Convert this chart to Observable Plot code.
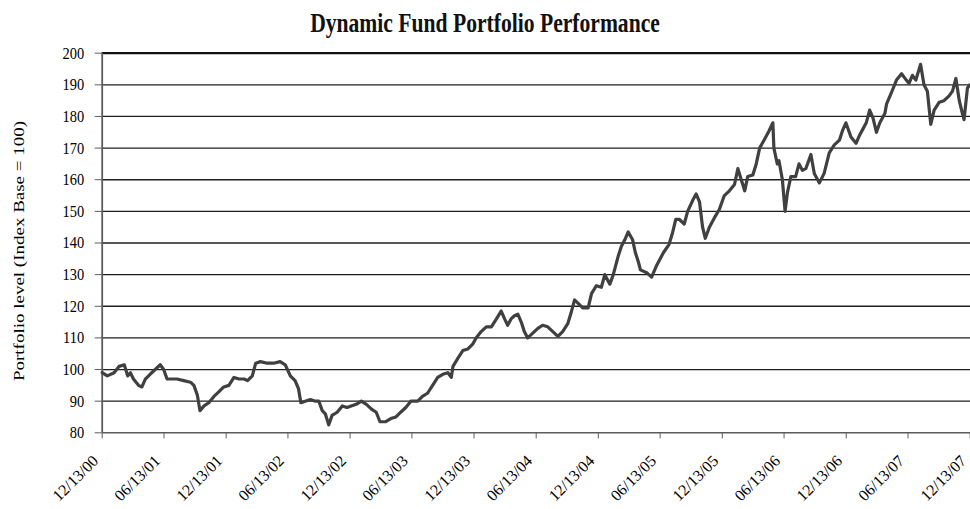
<!DOCTYPE html>
<html>
<head>
<meta charset="utf-8">
<script src="https://cdn.jsdelivr.net/npm/d3@7"></script>
<script src="https://cdn.jsdelivr.net/npm/@observablehq/plot@0.6"></script>
<style>
  html, body { margin: 0; padding: 0; background: #fff; width: 970px; height: 509px; overflow: hidden; }
  #wrap { position: relative; width: 970px; height: 509px; }
  #title { position: absolute; left: 0; top: 3px; width: 970px; height: 40px; line-height: 40px; text-align: center;
           font-family: "Liberation Serif", "Times New Roman", serif; font-weight: bold; font-size: 27px; color: #111;
           transform: scaleX(0.8); transform-origin: 485px 0; white-space: nowrap; }
  #chart { position: absolute; left: 0; top: 40px; }
</style>
</head>
<body>
<div id="wrap">
  <div id="title"></div>
  <div id="chart"></div>
</div>
<script>
const titleText = "Dynamic Fund Portfolio Performance";
const yAxisLabel = "Portfolio level (Index Base = 100)";

const dates = [
  "2000-12-13","2000-12-28","2001-01-17","2001-02-01","2001-02-16","2001-02-26","2001-03-06","2001-03-15","2001-03-30","2001-04-09",
  "2001-04-19","2001-05-03","2001-05-18","2001-06-02","2001-06-12","2001-06-22","2001-07-06","2001-07-21","2001-08-10","2001-08-30",
  "2001-09-09","2001-09-19","2001-09-27","2001-10-09","2001-10-23","2001-11-07","2001-11-22","2001-12-06","2001-12-21","2002-01-05",
  "2002-01-20","2002-02-04","2002-02-14","2002-02-28","2002-03-10","2002-03-24","2002-04-13","2002-05-02","2002-05-21","2002-06-05",
  "2002-06-20","2002-07-04","2002-07-14","2002-07-21","2002-08-03","2002-08-18","2002-09-02","2002-09-12","2002-09-22","2002-10-01",
  "2002-10-11","2002-10-21","2002-11-05","2002-11-20","2002-12-04","2002-12-16","2002-12-31","2003-01-15","2003-01-30","2003-02-14",
  "2003-02-28","2003-03-11","2003-03-28","2003-04-12","2003-04-27","2003-05-11","2003-05-26","2003-06-10","2003-06-30","2003-07-14",
  "2003-07-29","2003-08-13","2003-08-28","2003-09-12","2003-09-27","2003-10-07","2003-10-12","2003-10-26","2003-11-10","2003-11-25",
  "2003-12-09","2003-12-19","2004-01-03","2004-01-18","2004-02-02","2004-02-17","2004-03-02","2004-03-12","2004-03-21","2004-03-31",
  "2004-04-10","2004-04-20","2004-04-30","2004-05-09","2004-05-19","2004-06-03","2004-06-18","2004-07-02","2004-07-17","2004-08-01",
  "2004-08-16","2004-08-30","2004-09-14","2004-09-24","2004-10-04","2004-10-14","2004-10-28","2004-11-13","2004-11-23","2004-12-07",
  "2004-12-22","2005-01-01","2005-01-16","2005-01-26","2005-02-10","2005-02-19","2005-03-01","2005-03-11","2005-03-24","2005-04-01",
  "2005-04-10","2005-04-16","2005-05-06","2005-05-19","2005-06-03","2005-06-23","2005-07-09","2005-07-19","2005-07-29","2005-08-08",
  "2005-08-23","2005-09-02","2005-09-17","2005-09-27","2005-10-07","2005-10-16","2005-10-24","2005-11-05","2005-11-20","2005-12-04",
  "2005-12-19","2006-01-03","2006-01-18","2006-01-28","2006-02-07","2006-02-17","2006-02-26","2006-03-13","2006-03-23","2006-04-02",
  "2006-04-15","2006-04-30","2006-05-11","2006-05-14","2006-05-24","2006-05-29","2006-06-08","2006-06-16","2006-06-23","2006-07-03",
  "2006-07-17","2006-07-27","2006-08-06","2006-08-16","2006-08-31","2006-09-10","2006-09-25","2006-10-09","2006-10-24","2006-11-08",
  "2006-11-23","2006-12-02","2006-12-12","2006-12-27","2007-01-11","2007-01-21","2007-01-31","2007-02-10","2007-02-20","2007-03-02",
  "2007-03-12","2007-03-22","2007-04-06","2007-04-11","2007-04-25","2007-05-10","2007-05-25","2007-06-08","2007-06-16","2007-06-26",
  "2007-07-06","2007-07-20","2007-07-30","2007-08-09","2007-08-19","2007-08-29","2007-09-13","2007-09-27","2007-10-12","2007-10-22",
  "2007-11-01","2007-11-11","2007-11-20","2007-11-25","2007-12-05","2007-12-12"
];
const levels = [
  99, 98, 99, 101, 101.5, 98, 99, 97, 95, 94.5,
  97, 98.5, 100, 101.5, 100, 97, 97, 97, 96.5, 96,
  95, 92, 87, 88.5, 89.5, 91.5, 93, 94.5, 95, 97.5,
  97, 97, 96.5, 98, 102, 102.5, 102, 102, 102.5, 101.5,
  98, 96.5, 94, 89.5, 90, 90.5, 90, 90, 87, 86,
  82.5, 85.5, 86.5, 88.5, 88, 88.5, 89, 90, 89, 87.5,
  86.5, 83.5, 83.5, 84.5, 85, 86.5, 88, 90, 90, 91.5,
  92.5, 95, 97.5, 98.5, 99, 97.5, 101, 103.5, 106, 106.5,
  108, 110, 112, 113.5, 113.5, 116, 118.5, 116, 114, 116,
  117, 117.5, 115, 112, 110, 111.5, 113, 114, 113.5, 112,
  110.5, 112, 114.5, 118, 122, 121, 119.5, 119.5, 124, 126.5,
  126, 130, 127, 130, 136, 139, 141, 143.5, 141, 137,
  134, 131.5, 130.5, 129.2, 133, 137, 139.5, 143, 147.5, 147.5,
  146, 150, 153.5, 155.5, 153, 145, 141.5, 145, 148, 150.5,
  155, 156.5, 158.5, 163.5, 160, 156.5, 161, 161.5, 165, 170,
  172.5, 175.5, 178, 170, 165, 166, 160, 150, 156, 161,
  161, 165, 163, 163.5, 168, 162, 159, 162, 168.5, 171,
  172.5, 175.5, 178, 173.5, 171.5, 174, 176, 178, 182, 179.5,
  175, 178, 181, 184, 187.5, 191.5, 193.5, 191.5, 190.5, 193,
  191.5, 196.5, 190, 188, 177.5, 182, 184.5, 185, 186.5, 188,
  192, 185, 181, 179, 189, 190
];

const xTickDates = ["2000-12-13","2001-06-13","2001-12-13","2002-06-13","2002-12-13","2003-06-13","2003-12-13","2004-06-13",
                    "2004-12-13","2005-06-13","2005-12-13","2006-06-13","2006-12-13","2007-06-13","2007-12-13"];
const xTickLabels = ["12/13/00","06/13/01","12/13/01","06/13/02","12/13/02","06/13/03","12/13/03","06/13/04",
                     "12/13/04","06/13/05","12/13/05","06/13/06","12/13/06","06/13/07","12/13/07"];
const yTicks = [80, 90, 100, 110, 120, 130, 140, 150, 160, 170, 180, 190, 200];

const parse = d3.utcParse("%Y-%m-%d");
const data = dates.map((d, i) => ({date: parse(d), level: levels[i]}));
const xTicks = xTickDates.map((d, i) => ({date: parse(d), label: xTickLabels[i]}));
const xStart = parse("2000-12-13");
const xEnd = parse("2007-12-14");

document.getElementById("title").textContent = titleText;

const chart = Plot.plot({
  width: 970,
  height: 469,
  marginTop: 12.7,
  marginBottom: 76.7,
  marginLeft: 101.7,
  marginRight: 0,
  style: {fontFamily: "Liberation Serif, 'Times New Roman', serif", background: "white", color: "black", overflow: "visible"},
  x: {type: "utc", domain: [xStart, xEnd]},
  y: {domain: [80, 200]},
  marks: [
    Plot.ruleY(yTicks.filter(v => v > 80 && v < 200), {stroke: "#1e1e1e", strokeWidth: 1.3}),
    Plot.ruleY([200], {stroke: "#111", strokeWidth: 2.3}),
    Plot.ruleY([80], {stroke: "#5c5c5c", strokeWidth: 1.6}),
    Plot.ruleX([xStart], {stroke: "#5c5c5c", strokeWidth: 1.8}),
    Plot.axisY({ticks: yTicks, tickSize: 7, tickPadding: 11, fontSize: 17, label: null, stroke: "#5c5c5c", fill: "black"}),
    Plot.axisX({ticks: xTicks.map(d => d.date), tickFormat: () => "", tickSize: 6, label: null, stroke: "#5c5c5c"}),
    Plot.text(xTicks, {x: "date", text: "label", frameAnchor: "bottom", rotate: -45, textAnchor: "end", lineAnchor: "top",
                       dx: -11, dy: 21, fontSize: 16, fill: "black"}),
    Plot.line(data, {x: "date", y: "level", stroke: "#404040", strokeWidth: 3.2, strokeLinejoin: "round"}),
    Plot.text([yAxisLabel], {frameAnchor: "left", rotate: -90, textAnchor: "middle", lineAnchor: "middle",
                             dx: -82.7, dy: 8, fontSize: 19, fill: "black"})
  ]
});

function condense(sel, sx, sy) {
  chart.querySelectorAll(sel).forEach(t => {
    const tr = t.getAttribute("transform");
    if (tr) t.setAttribute("transform", tr + ` scale(${sx},${sy})`);
    else {
      const x = t.getAttribute("x") || 0, y = t.getAttribute("y") || 0;
      t.removeAttribute("x"); t.removeAttribute("y");
      t.setAttribute("transform", `translate(${x},${y}) scale(${sx},${sy})`);
    }
  });
}
// the reference renders Times in a narrow (horizontally condensed) way
condense('[aria-label="y-axis tick label"] text', 0.85, 1);
chart.querySelectorAll('g[aria-label="text"]').forEach(g => {
  g.querySelectorAll("text").forEach(t => {
    if (t.textContent === yAxisLabel) {
      const tr = t.getAttribute("transform");
      if (tr) t.setAttribute("transform", tr + " scale(1,0.75)");
    }
  });
});
document.getElementById("chart").appendChild(chart);
</script>
</body>
</html>
